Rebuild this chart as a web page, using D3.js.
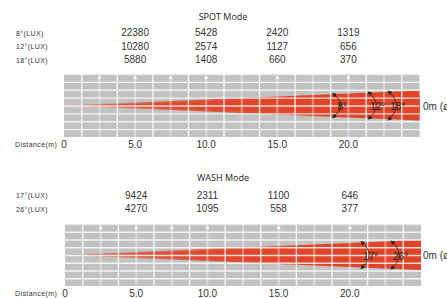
<!DOCTYPE html>
<html>
<head>
<meta charset="utf-8">
<script src="https://cdn.jsdelivr.net/npm/d3@7"></script>
<style>
  body { margin: 0; background: #fff; }
  svg { display: block; }
  .title { font-family: "Open Sans", sans-serif; font-size: 9px; fill: #222; }
  .rowlabel { font-family: "Liberation Sans", Arial, sans-serif; font-size: 7px; letter-spacing: 0.4px; fill: #333; }
  .val { font-family: "Liberation Sans", Arial, sans-serif; font-size: 10px; fill: #333; }
  .angle { font-family: "Liberation Sans", Arial, sans-serif; font-size: 10px; fill: #222; }
</style>
</head>
<body>
<script>

// Data
var distances = [5, 10, 15, 20];
var tickValues = [0, 5, 10, 15, 20];
var tickLabels = ["0", "5.0", "10.0", "15.0", "20.0"];
var arrowMarks = [2.5, 5, 7.5, 10, 15, 20];
var maxDistance = 25;

var spotLabels = ["8°(LUX)", "12°(LUX)", "18°(LUX)"];
var spotAngles = [8, 12, 18];
var spotLux = [
  [22380, 5428, 2420, 1319],
  [10280, 2574, 1127, 656],
  [5880, 1408, 660, 370]
];

var washLabels = ["17°(LUX)", "26°(LUX)"];
var washAngles = [17, 26];
var washLux = [
  [9424, 2311, 1100, 646],
  [4270, 1095, 558, 377]
];

var svgWidth = 447;
var svgHeight = 298;

var svg = d3.select("body")
  .append("svg")
  .attr("width", svgWidth)
  .attr("height", svgHeight);

var defs = svg.append("defs");

// arrow heads for the angle arcs
defs.append("marker")
  .attr("id", "arrowHead")
  .attr("viewBox", "0 0 10 10")
  .attr("refX", 8)
  .attr("refY", 5)
  .attr("markerWidth", 4.5)
  .attr("markerHeight", 4.5)
  .attr("markerUnits", "userSpaceOnUse")
  .attr("orient", "auto-start-reverse")
  .append("path")
  .attr("d", "M0,0 L10,5 L0,10 z")
  .attr("fill", "#222");

function drawPanel(opts) {
  var x = d3.scaleLinear().domain([0, maxDistance]).range(opts.xRange);
  var top = opts.top, bottom = opts.bottom;
  var cy = (top + bottom) / 2;
  var g = svg.append("g");

  // title
  g.append("text")
    .attr("class", "title")
    .attr("x", 223)
    .attr("y", opts.titleY)
    .attr("text-anchor", "middle")
    .text(opts.title);

  // lux rows
  opts.labels.forEach(function (lab, i) {
    var yy = opts.rowY[i];
    g.append("text")
      .attr("class", "rowlabel")
      .attr("x", 16)
      .attr("y", yy - 0.5)
      .text(lab);
    g.selectAll(null)
      .data(opts.lux[i])
      .enter()
      .append("text")
      .attr("class", "val")
      .attr("x", (d, j) => x(distances[j]))
      .attr("y", yy)
      .attr("text-anchor", "middle")
      .text(d => d);
  });

  // gray panel
  g.append("rect")
    .attr("x", x(0))
    .attr("y", top)
    .attr("width", x(maxDistance) - x(0))
    .attr("height", bottom - top)
    .attr("fill", "#c2c2c2");

  // beam gradient
  var gradId = "beam" + opts.title.replace(/\s/g, "");
  var grad = defs.append("linearGradient")
    .attr("id", gradId)
    .attr("gradientUnits", "userSpaceOnUse")
    .attr("x1", x(0)).attr("x2", x(maxDistance))
    .attr("y1", 0).attr("y2", 0);
  [[0, 0.15], [0.1, 0.45], [0.35, 0.85], [0.7, 1]].forEach(function (s) {
    grad.append("stop")
      .attr("offset", s[0])
      .attr("stop-color", "#e0452a")
      .attr("stop-opacity", s[1]);
  });

  // beam spread in meters at the far end, mapped into the panel
  var spread = a => maxDistance * Math.tan(a / 2 * Math.PI / 180);
  var maxSpread = spread(d3.max(opts.angles));
  var y = d3.scaleLinear().domain([-maxSpread, maxSpread]).range([cy + 15, cy - 15]);

  g.selectAll(null)
    .data(opts.angles.slice().sort((a, b) => b - a))
    .enter()
    .append("path")
    .attr("d", a => d3.line()([
      [x(0), y(0)],
      [x(maxDistance), y(spread(a))],
      [x(maxDistance), y(-spread(a))]
    ]) + "Z")
    .attr("fill", "url(#" + gradId + ")");

  // grid: horizontal rows
  var rowH = (bottom - top) / 8;
  g.selectAll(null)
    .data(d3.range(8))
    .enter()
    .append("line")
    .attr("x1", x(0)).attr("x2", x(maxDistance))
    .attr("y1", i => top + i * rowH + 0.5)
    .attr("y2", i => top + i * rowH + 0.5)
    .attr("stroke", "#fff")
    .attr("stroke-opacity", i => i === 0 ? 0.6 : 0.8)
    .attr("stroke-width", 1.4);

  // grid: vertical lines every 1.25 m
  g.selectAll(null)
    .data(d3.range(1, 20))
    .enter()
    .append("line")
    .attr("x1", i => x(i * 1.25)).attr("x2", i => x(i * 1.25))
    .attr("y1", top).attr("y2", bottom)
    .attr("stroke", "#fff")
    .attr("stroke-opacity", i => i % 2 ? 0.85 : 0.4)
    .attr("stroke-width", i => i % 2 ? 1.4 : 2);

  // little arrows on top
  g.selectAll(null)
    .data(arrowMarks)
    .enter()
    .append("path")
    .attr("d", d => `M${x(d) - 2},${top + 5} L${x(d) + 2},${top + 5} L${x(d)},${top + 1.5} Z`)
    .attr("fill", "#fff");

  // angle arcs
  opts.angles.forEach(function (a, i) {
    var ax = x(opts.arcAt[i]);
    var h = opts.arcH[i];
    g.append("path")
      .attr("d", `M${ax},${cy - h} Q${ax + 16},${cy} ${ax},${cy + h}`)
      .attr("fill", "none")
      .attr("stroke", "#222")
      .attr("stroke-width", 0.8)
      .attr("marker-start", "url(#arrowHead)")
      .attr("marker-end", "url(#arrowHead)");
    g.append("text")
      .attr("class", "angle")
      .attr("x", ax + 9.5)
      .attr("y", cy + 4.5)
      .attr("text-anchor", "middle")
      .text(a + "°");
  });

  g.append("text")
    .attr("class", "val")
    .attr("x", 423)
    .attr("y", cy + 4)
    .text("0m (ø)");

  // distance axis
  g.append("text")
    .attr("class", "rowlabel")
    .attr("x", 15)
    .attr("y", opts.axisY - 1)
    .text("Distance(m)");

  g.selectAll(null)
    .data(tickValues)
    .enter()
    .append("text")
    .attr("class", "val")
    .attr("x", d => x(d))
    .attr("y", opts.axisY)
    .attr("text-anchor", "middle")
    .text((d, i) => tickLabels[i]);
}

drawPanel({
  title: "SPOT Mode",
  titleY: 20,
  labels: spotLabels,
  angles: spotAngles,
  lux: spotLux,
  rowY: [36, 49.5, 63],
  xRange: [64, 419.5],
  top: 74,
  bottom: 137,
  arcAt: [18.9, 21.4, 22.8],
  arcH: [12, 13.5, 14.5],
  axisY: 147.5
});

drawPanel({
  title: "WASH Mode",
  titleY: 180.5,
  labels: washLabels,
  angles: washAngles,
  lux: washLux,
  rowY: [198.5, 212],
  xRange: [65, 421],
  top: 224,
  bottom: 286,
  arcAt: [20.8, 22.9],
  arcH: [13.3, 14],
  axisY: 296.5
});

</script>
</body>
</html>
